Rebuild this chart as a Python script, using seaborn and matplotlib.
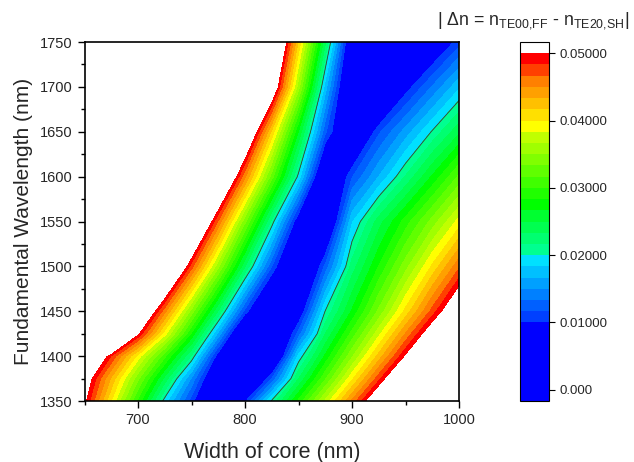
import numpy as np
import matplotlib
matplotlib.use("Agg")
import matplotlib.pyplot as plt
from matplotlib.colors import ListedColormap, BoundaryNorm
import seaborn as sns

# grid of the simulation: core width (nm) x fundamental wavelength (nm)
widths = [650, 675, 700, 725, 750, 775, 800, 825, 850, 875, 900, 925, 950, 975, 1000]
wavelengths = [1350, 1375, 1400, 1425, 1450, 1500, 1550, 1600, 1650, 1700, 1750]

# |dn|, one row per wavelength (values > 0.05 shown white)
dn_1350 = [0.0504, 0.0400, 0.0295, 0.0192, 0.0108, 0.0020, 0.0096, 0.0203, 0.0287, 0.0370, 0.0453, 0.0537, 0.0620, 0.0800, 0.0800]
dn_1375 = [0.0522, 0.0430, 0.0337, 0.0244, 0.0147, 0.0046, 0.0020, 0.0117, 0.0233, 0.0314, 0.0396, 0.0477, 0.0559, 0.0640, 0.0800]
dn_1400 = [0.0571, 0.0482, 0.0393, 0.0304, 0.0214, 0.0087, 0.0020, 0.0031, 0.0188, 0.0270, 0.0347, 0.0423, 0.0500, 0.0577, 0.0653]
dn_1425 = [0.0800, 0.0610, 0.0500, 0.0390, 0.0280, 0.0162, 0.0028, 0.0020, 0.0124, 0.0233, 0.0306, 0.0378, 0.0451, 0.0523, 0.0596]
dn_1450 = [0.0800, 0.0800, 0.0567, 0.0455, 0.0343, 0.0231, 0.0110, 0.0020, 0.0074, 0.0201, 0.0269, 0.0337, 0.0405, 0.0473, 0.0541]
dn_1500 = [0.0800, 0.0800, 0.0800, 0.0594, 0.0474, 0.0354, 0.0234, 0.0117, 0.0020, 0.0121, 0.0224, 0.0284, 0.0343, 0.0403, 0.0463]
dn_1550 = [0.0800, 0.0800, 0.0800, 0.0800, 0.0591, 0.0464, 0.0337, 0.0210, 0.0079, 0.0040, 0.0181, 0.0242, 0.0291, 0.0340, 0.0390]
dn_1600 = [0.0800, 0.0800, 0.0800, 0.0800, 0.0800, 0.0583, 0.0453, 0.0324, 0.0194, 0.0040, 0.0115, 0.0167, 0.0218, 0.0269, 0.0320]
dn_1650 = [0.0800, 0.0800, 0.0800, 0.0800, 0.0800, 0.0800, 0.0559, 0.0412, 0.0265, 0.0120, 0.0040, 0.0113, 0.0157, 0.0202, 0.0246]
dn_1700 = [0.0800, 0.0800, 0.0800, 0.0800, 0.0800, 0.0800, 0.0800, 0.0536, 0.0357, 0.0175, 0.0030, 0.0020, 0.0089, 0.0135, 0.0180]
dn_1750 = [0.0800, 0.0800, 0.0800, 0.0800, 0.0800, 0.0800, 0.0770, 0.0593, 0.0414, 0.0236, 0.0057, 0.0030, 0.0019, 0.0064, 0.0109]

# contour levels (step 1/600) and Origin-like rainbow fill
levels = np.arange(-1, 32) / 600
band_colors = (["#0000ff"] * 7 + [
    "#0040ff", "#0060ff", "#0080ff", "#00a0ff", "#00c0ff", "#00e0ff",
    "#00ff90", "#00ff70", "#00ff50", "#00ff30", "#00ff00", "#20ff00",
    "#40ff00", "#60ff00", "#80ff00", "#a0ff00", "#c0ff00", "#ffff00",
    "#ffe000", "#ffc000", "#ffa000", "#ff8000", "#ff4000", "#ff0000",
] + ["#ffffff"])
cbar_ticks = [0.0, 0.01, 0.02, 0.03, 0.04, 0.05]
cbar_labels = ["0.000", "0.01000", "0.02000", "0.03000", "0.04000", "0.05000"]

sns.set_theme(style="ticks")
plt.rcParams["font.family"] = ["Liberation Sans", "DejaVu Sans"]
plt.rcParams["mathtext.fontset"] = "custom"
plt.rcParams["mathtext.rm"] = "Liberation Sans"

Z = np.array([dn_1350, dn_1375, dn_1400, dn_1425, dn_1450, dn_1500,
              dn_1550, dn_1600, dn_1650, dn_1700, dn_1750])
X, Y = np.meshgrid(widths, wavelengths)

cmap = ListedColormap(band_colors)
norm = BoundaryNorm(levels, cmap.N)

fig = plt.figure(figsize=(6.34, 4.62), dpi=100)
ax = fig.add_axes([0.1333, 0.132, 0.5907, 0.777])
cax = fig.add_axes([0.820, 0.132, 0.0457, 0.777])

cs = ax.contourf(X, Y, Z, levels=levels, cmap=cmap, norm=norm)
ax.contour(X, Y, Z, levels=[0.02], colors="#3a3a3a", linewidths=0.6)

ax.set_xlim(650, 1000)
ax.set_ylim(1350, 1750)
ax.set_xticks([700, 800, 900, 1000])
ax.set_xticks(np.arange(650, 1001, 50), minor=True)
ax.set_yticks(np.arange(1350, 1751, 50))
ax.set_yticks(np.arange(1375, 1750, 50), minor=True)
ax.tick_params(which="major", direction="out", length=5, width=1, labelsize=10.5, color="black")
ax.tick_params(which="minor", direction="out", length=3, width=1, color="black")
for s in ax.spines.values():
    s.set_color("black")
    s.set_linewidth(1.2)
ax.set_xlabel("Width of core (nm)", fontsize=15.5, labelpad=11)
ax.set_ylabel("Fundamental Wavelength (nm)", fontsize=15, labelpad=5)

cb = fig.colorbar(cs, cax=cax, ticks=cbar_ticks)
cb.ax.set_yticklabels(cbar_labels)
cb.ax.tick_params(direction="out", length=4, width=0.8, labelsize=9.5, color="black")
cb.ax.minorticks_off()
cb.outline.set_edgecolor("black")
cb.outline.set_linewidth(0.8)

fig.text(0.69, 0.955, r"| $\Delta$n = n$_{\rm TE00{,}FF}$ - n$_{\rm TE20{,}SH}$|",
         fontsize=12.8, ha="left", va="center")

fig.savefig("out.png", dpi=100)
